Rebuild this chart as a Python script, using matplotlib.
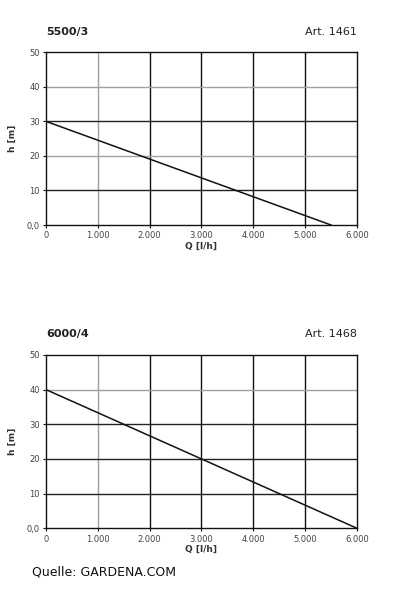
import matplotlib
matplotlib.use("Agg")
import matplotlib.pyplot as plt

# pump curves
q_5500 = [0, 5500]
h_5500 = [30, 0]
q_6000 = [0, 6000]
h_6000 = [40, 0]

x_ticks = [0, 1000, 2000, 3000, 4000, 5000, 6000]
x_labels = ["0", "1.000", "2.000", "3.000", "4.000", "5.000", "6.000"]
y_ticks = [0, 10, 20, 30, 40, 50]
y_labels = ["0,0", "10", "20", "30", "40", "50"]

charts = [
    ("5500/3", "Art. 1461", q_5500, h_5500, [0.6256, 0.2874], {20, 40}),
    ("6000/4", "Art. 1468", q_6000, h_6000, [0.121, 0.2884], {40}),
]

fig = plt.figure(figsize=(3.99, 6.01), dpi=100)
fig.patch.set_facecolor("white")

tick_col = "#444444"
for title, art, q, h, (bottom, height), gray_rows in charts:
    ax = fig.add_axes([0.1153, bottom, 0.7794, height])
    ax.set_xlim(0, 6000)
    ax.set_ylim(0, 50)

    # grid, some lines lighter like in the scan
    for x in x_ticks[1:-1]:
        c = "#a0a0a0" if x == 1000 else "#111111"
        ax.axvline(x, color=c, lw=1.0, zorder=1)
    for y in y_ticks[1:-1]:
        c = "#a0a0a0" if y in gray_rows else "#222222"
        ax.axhline(y, color=c, lw=1.0, zorder=1)

    ax.plot(q, h, color="#111111", lw=1.1, zorder=3)

    for s in ax.spines.values():
        s.set_color("#111111")
        s.set_linewidth(1.0)

    ax.set_xticks(x_ticks)
    ax.set_xticklabels(x_labels)
    ax.set_yticks(y_ticks)
    ax.set_yticklabels(y_labels)
    ax.tick_params(labelsize=6, colors="#111111", labelcolor=tick_col,
                   length=2.5, width=0.8, pad=2)
    ax.set_xlabel("Q [l/h]", fontsize=6.5, fontweight="bold", color="#333333",
                  labelpad=1)
    ax.set_ylabel("h [m]", fontsize=6.5, fontweight="bold", color="#333333",
                  labelpad=7)

    ax.text(0.0, 1.12, title, transform=ax.transAxes, fontsize=8,
            fontweight="bold", color="#222222", ha="left", va="center")
    ax.text(1.0, 1.12, art, transform=ax.transAxes, fontsize=8,
            color="#222222", ha="right", va="center")

fig.text(32 / 399, 1 - 572 / 601, "Quelle: GARDENA.COM", fontsize=9,
         color="#111111", ha="left", va="center")

fig.savefig("out.png", dpi=100)
